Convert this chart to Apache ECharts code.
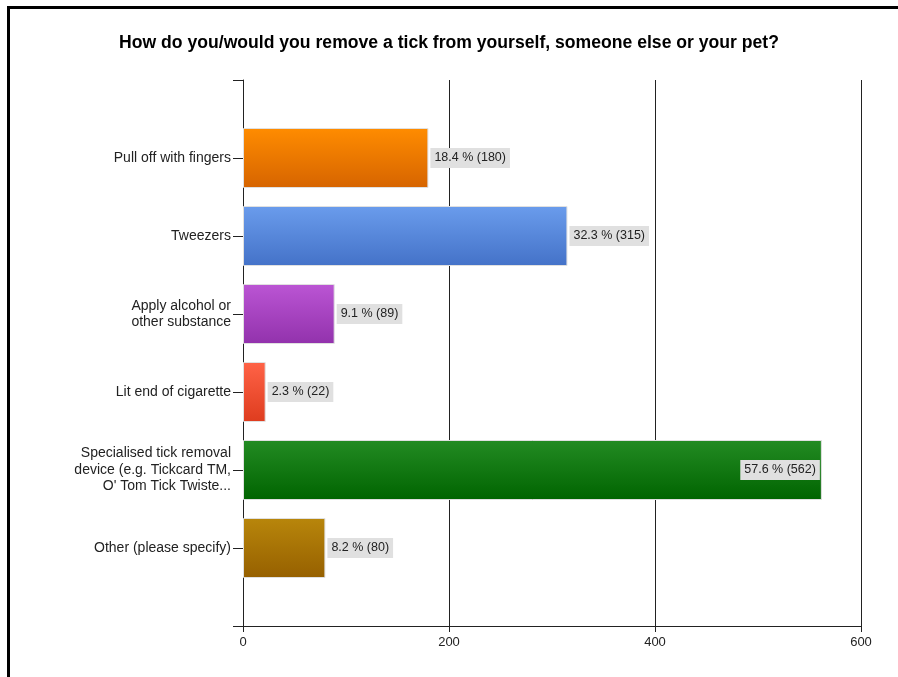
<!DOCTYPE html>
<html><head><meta charset="utf-8">
<script src="https://cdn.jsdelivr.net/npm/echarts@6/dist/echarts.min.js"></script>
<style>html,body{margin:0;padding:0;background:#fff;}#c{width:898px;height:677px;}</style>
</head><body><div id="c"></div>
<script>
const categories = ['', 'Pull off with fingers', 'Tweezers', 'Apply alcohol or\nother substance', 'Lit end of cigarette', 'Specialised tick removal\ndevice (e.g. Tickcard TM,\nO\' Tom Tick Twiste...', 'Other (please specify)', ''];
const counts = [null, 180, 315, 89, 22, 562, 80, null];
const percents = [null, 18.4, 32.3, 9.1, 2.3, 57.6, 8.2, null];
const topColors = [null, '#ff8c00', '#6a9cec', '#bb55d4', '#ff6347', '#238b23', '#b8860b', null];
const bottomColors = [null, '#d66400', '#4472c8', '#9232ac', '#de3c1e', '#006400', '#966000', null];
const xTicks = [0, 200, 400, 600];

const chart = echarts.init(document.getElementById('c'), null, {renderer: 'canvas'});
const font = '"Liberation Sans", Arial, sans-serif';
const data = counts.map((v, i) => {
  if (v === null) return '-';
  return {
    value: v,
    itemStyle: {
      color: {type: 'linear', x: 0, y: 0, x2: 0, y2: 1, colorStops: [
        {offset: 0, color: topColors[i]}, {offset: 1, color: bottomColors[i]}]},
      borderColor: '#e0e0e0', borderWidth: 1
    },
    label: {position: v > 500 ? 'insideRight' : 'right'}
  };
});
chart.setOption({
  animation: false,
  title: {
    text: 'How do you/would you remove a tick from yourself, someone else or your pet?',
    left: 'center', top: 29,
    textStyle: {fontFamily: font, fontSize: 17.6, fontWeight: 'bold', color: '#000'}
  },
  graphic: [
    {type: 'rect', shape: {x: 7, y: 6, width: 900, height: 3}, style: {fill: '#000'}},
    {type: 'rect', shape: {x: 7, y: 6, width: 3, height: 680}, style: {fill: '#000'}}
  ],
  grid: {left: 243, right: 37, top: 80, bottom: 51, containLabel: false},
  xAxis: {
    type: 'value', min: xTicks[0], max: xTicks[xTicks.length - 1], interval: 200,
    axisLine: {show: true, lineStyle: {color: '#222', width: 1}},
    axisTick: {show: true, length: 6, lineStyle: {color: '#222'}},
    axisLabel: {fontFamily: font, fontSize: 13, color: '#222', margin: 10},
    splitLine: {show: true, lineStyle: {color: '#222', width: 1}}
  },
  yAxis: {
    type: 'category', data: categories, inverse: true, boundaryGap: false,
    axisLine: {show: true, lineStyle: {color: '#222', width: 1}},
    axisTick: {show: true, length: 10, lineStyle: {color: '#222'}},
    axisLabel: {fontFamily: font, fontSize: 14, color: '#222', margin: 12, lineHeight: 16.5, interval: 0},
    splitLine: {show: false}
  },
  series: [{
    type: 'bar', data: data, barWidth: 60,
    label: {
      show: true, distance: 2, fontFamily: font, fontSize: 12.5, color: '#222',
      backgroundColor: '#e0e0e0', padding: [4, 4, 3, 4],
      formatter: p => percents[p.dataIndex] + ' % (' + counts[p.dataIndex] + ')'
    }
  }]
});
</script></body></html>
